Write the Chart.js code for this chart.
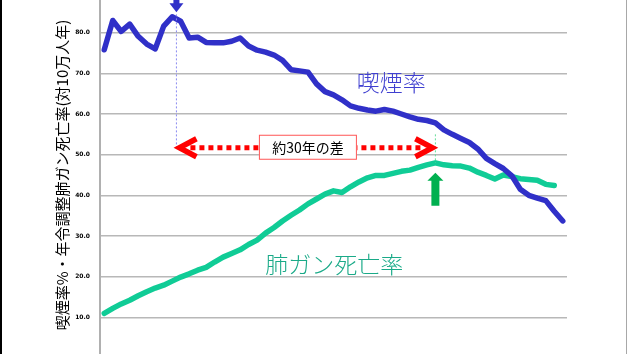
<!DOCTYPE html>
<html>
<head>
<meta charset="utf-8">
<script src="https://cdn.jsdelivr.net/npm/chart.js@4/dist/chart.umd.min.js"></script>
<style>
    html, body { margin: 0; padding: 0; background: #fff; overflow: hidden; }
    body { width: 630px; height: 354px; position: relative; }
    #wrap { position: absolute; left: 0; top: -30px; width: 630px; height: 420px; }
    #leftEdge { position: absolute; left: 0; top: 0; width: 2px; height: 354px; background: #000; }
    #rightEdge { position: absolute; left: 626px; top: 0; width: 1px; height: 354px; background: #a8a8a8; }
</style>
</head>
<body>
<div id="wrap"><canvas id="chart" width="630" height="420"></canvas></div>
<div id="leftEdge"></div>
<div id="rightEdge"></div>
<script>
// years 1957 - 2011
const years = [];
for (let y = 1957; y <= 2011; y++) years.push(String(y));

// male smoking rate (%)
const smokingRate = [
    75.8, 83.0, 80.3, 82.1, 79.1, 77.2, 76.0, 81.6, 83.9, 82.8,
    78.7, 78.9, 77.6, 77.5, 77.5, 77.9, 78.7, 76.7, 75.7, 75.2,
    74.5, 73.2, 70.9, 70.6, 70.3, 67.4, 65.5, 64.7, 63.5, 62.0,
    61.4, 61.0, 60.7, 61.1, 60.7, 60.0, 59.3, 58.7, 58.4, 57.8,
    56.1, 55.0, 54.0, 53.0, 51.4, 49.1, 47.8, 46.6, 44.8, 41.5,
    40.0, 39.3, 38.7, 36.1, 33.7
];

// age-adjusted lung cancer mortality (per 100,000)
const cancerRate = [
    11.0, 12.2, 13.3, 14.2, 15.3, 16.3, 17.2, 17.9, 18.9, 19.9,
    20.7, 21.6, 22.3, 23.6, 24.8, 25.7, 26.6, 27.9, 29.0, 30.7,
    32.1, 33.7, 35.1, 36.4, 37.9, 39.1, 40.3, 41.1, 40.7, 42.1,
    43.3, 44.3, 44.9, 44.9, 45.4, 45.9, 46.2, 46.9, 47.5, 48.0,
    47.5, 47.3, 47.2, 46.7, 45.7, 44.9, 44.0, 45.0, 44.6, 44.1,
    43.9, 43.7, 42.7, 42.4
];

const yTicks = [0, 10, 20, 30, 40, 50, 60, 70, 80, 90];

const smokePeakIdx = 8.5;
const cancerPeakIdx = 39;
const gapLevel = 51.7;

const blue = '#3030c8';
const teal = '#10cc96';

function idxPx(xs, i) {
    const a = Math.floor(i), b = Math.ceil(i);
    const pa = xs.getPixelForValue(a), pb = xs.getPixelForValue(b);
    return pa + (pb - pa) * (i - a);
}

const annotations = {
    id: 'annotations',
    afterDatasetsDraw(chart) {
        const ctx = chart.ctx;
        const xs = chart.scales.x, ys = chart.scales.y;
        const bx = idxPx(xs, smokePeakIdx);
        const gx = idxPx(xs, cancerPeakIdx);
        const ry = ys.getPixelForValue(gapLevel);
        ctx.save();

        // blue dotted guide
        ctx.strokeStyle = '#8a8af0';
        ctx.lineWidth = 1;
        ctx.setLineDash([2, 2]);
        ctx.beginPath();
        ctx.moveTo(bx, ys.getPixelForValue(84.5));
        ctx.lineTo(bx, ry);
        ctx.stroke();

        // green dotted guide
        ctx.strokeStyle = '#66dd99';
        ctx.beginPath();
        ctx.moveTo(gx, ys.getPixelForValue(55));
        ctx.lineTo(gx, ys.getPixelForValue(cancerRate[cancerPeakIdx]));
        ctx.stroke();

        // red dotted double arrow
        ctx.strokeStyle = '#ff0000';
        ctx.lineWidth = 5;
        ctx.setLineDash([5, 4]);
        ctx.beginPath();
        ctx.moveTo(bx + 14, ry);
        ctx.lineTo(gx - 14, ry);
        ctx.stroke();
        ctx.setLineDash([]);
        ctx.lineWidth = 5.5;
        ctx.lineJoin = 'miter';
        ctx.beginPath();
        ctx.moveTo(bx + 20, ry - 9);
        ctx.lineTo(bx + 3, ry);
        ctx.lineTo(bx + 20, ry + 9);
        ctx.stroke();
        ctx.beginPath();
        ctx.moveTo(gx - 20, ry - 9);
        ctx.lineTo(gx - 3, ry);
        ctx.lineTo(gx - 20, ry + 9);
        ctx.stroke();

        // label box
        const cx = (bx + gx) / 2 + 2;
        ctx.fillStyle = '#ffffff';
        ctx.fillRect(cx - 49, ry - 13, 98, 25);
        ctx.strokeStyle = '#ff5555';
        ctx.lineWidth = 1;
        ctx.strokeRect(cx - 48.5, ry - 12.5, 97, 24);
        ctx.fillStyle = '#000';
        ctx.font = '14px "Noto Sans CJK JP"';
        ctx.textAlign = 'center';
        ctx.textBaseline = 'middle';
        ctx.fillText('約30年の差', cx, ry);

        // blue down arrow
        const tipB = ys.getPixelForValue(84.5) - 2;
        ctx.fillStyle = blue;
        ctx.fillRect(bx - 3, tipB - 20, 6, 12);
        ctx.beginPath();
        ctx.moveTo(bx - 7, tipB - 9);
        ctx.lineTo(bx + 7, tipB - 9);
        ctx.lineTo(bx, tipB);
        ctx.closePath();
        ctx.fill();

        // green up arrow
        const tipG = ys.getPixelForValue(cancerRate[cancerPeakIdx]) + 10;
        ctx.fillStyle = '#00b050';
        ctx.beginPath();
        ctx.moveTo(gx, tipG);
        ctx.lineTo(gx + 8, tipG + 8);
        ctx.lineTo(gx + 4, tipG + 8);
        ctx.lineTo(gx + 4, tipG + 33);
        ctx.lineTo(gx - 4, tipG + 33);
        ctx.lineTo(gx - 4, tipG + 8);
        ctx.lineTo(gx - 8, tipG + 8);
        ctx.closePath();
        ctx.fill();

        // series labels
        ctx.font = '300 23px "Noto Sans CJK JP"';
        ctx.fillStyle = '#4040d0';
        ctx.fillText('喫煙率', idxPx(xs, 33.8), ys.getPixelForValue(67.7));
        ctx.fillStyle = '#1aaa88';
        ctx.fillText('肺ガン死亡率', idxPx(xs, 27.1), ys.getPixelForValue(23.1));

        ctx.restore();
    }
};

new Chart(document.getElementById('chart'), {
    type: 'line',
    data: {
        labels: years,
        datasets: [
            {
                label: '喫煙率',
                data: smokingRate,
                borderColor: blue,
                borderWidth: 5.5,
                pointRadius: 0,
                tension: 0,
                borderJoinStyle: 'round',
                borderCapStyle: 'round'
            },
            {
                label: '肺ガン死亡率',
                data: cancerRate,
                borderColor: teal,
                borderWidth: 5.5,
                pointRadius: 0,
                tension: 0,
                borderJoinStyle: 'round',
                borderCapStyle: 'round'
            }
        ]
    },
    options: {
        responsive: false,
        animation: false,
        devicePixelRatio: 1,
        layout: { padding: { top: 22, bottom: 32, left: 0, right: 63 } },
        plugins: { legend: { display: false }, tooltip: { enabled: false } },
        scales: {
            x: {
                type: 'category',
                offset: true,
                display: false
            },
            y: {
                min: 0,
                max: 90,
                afterFit: function(scale) { scale.width = 100; },
                afterBuildTicks: function(scale) {
                    scale.ticks = yTicks.map(v => ({ value: v }));
                },
                ticks: {
                    padding: 10,
                    color: '#000',
                    font: { size: 6, weight: '900', family: 'DejaVu Sans' },
                    callback: function(value) { return value.toFixed(1); }
                },
                grid: {
                    color: '#b8b8b8',
                    lineWidth: 1.5,
                    drawTicks: false
                },
                border: { color: '#b0b0b0', width: 2 },
                title: {
                    display: true,
                    text: '喫煙率%・年令調整肺ガン死亡率(対10万人年)',
                    color: '#000',
                    font: { size: 15, family: '"Noto Sans CJK JP"' },
                    padding: { top: 53, bottom: 0 }
                }
            }
        }
    },
    plugins: [annotations]
});
</script>
</body>
</html>
